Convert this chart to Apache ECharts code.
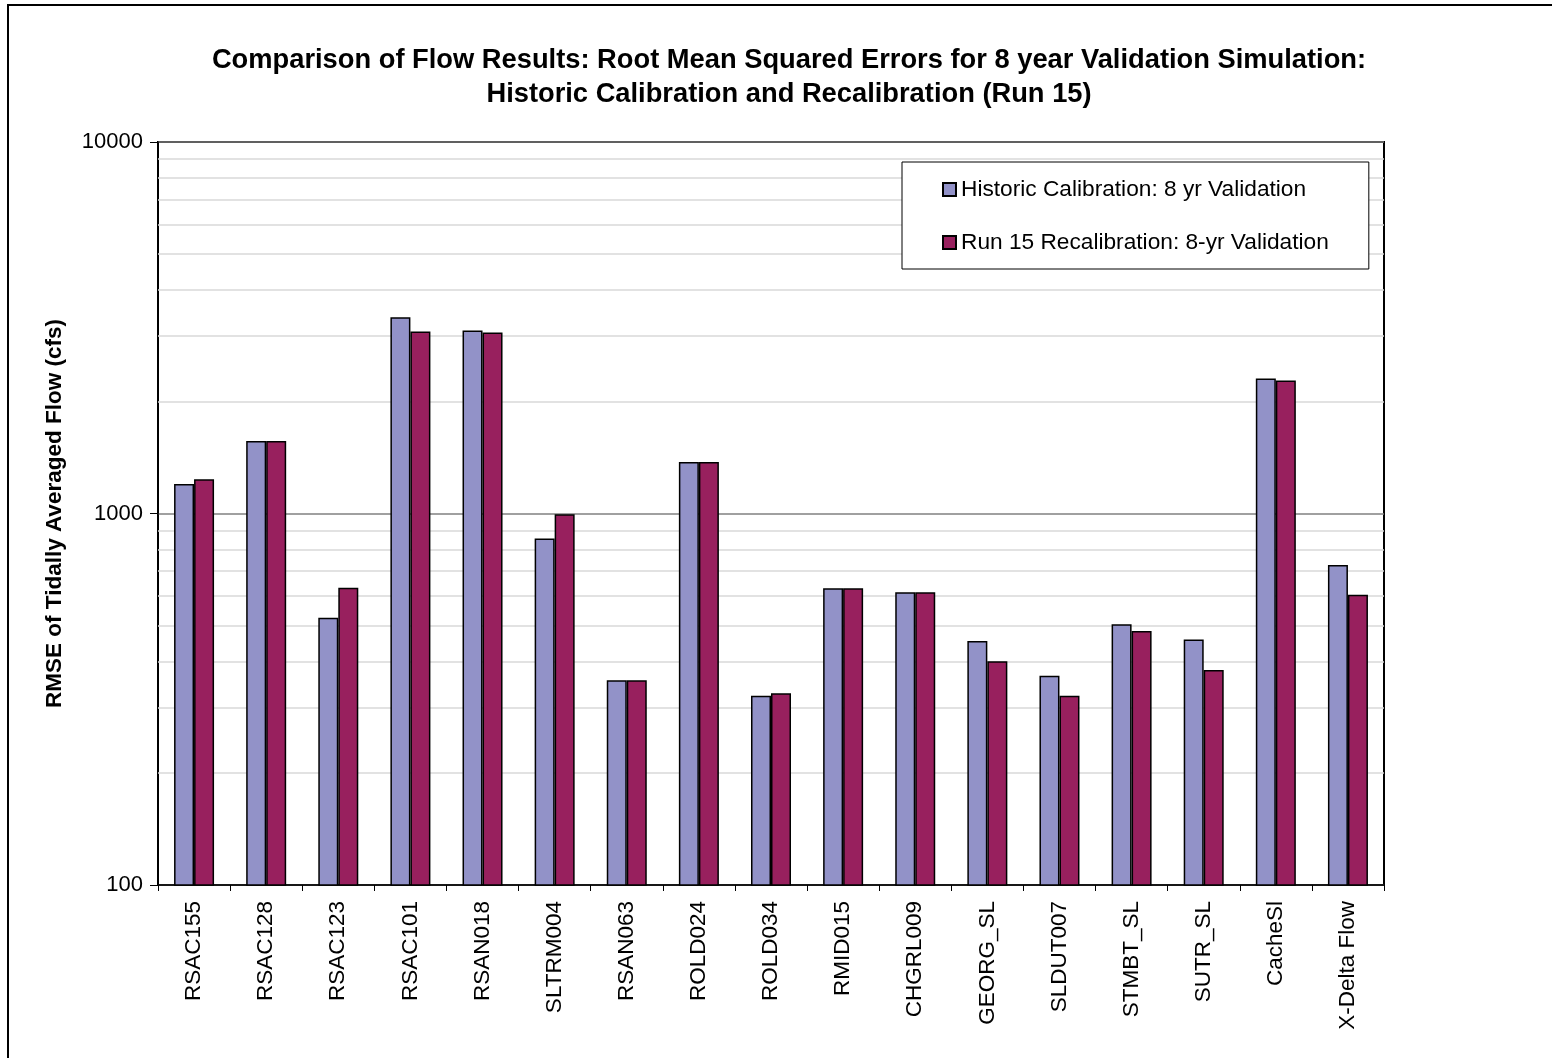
<!DOCTYPE html>
<html>
<head>
<meta charset="utf-8">
<script src="https://cdn.jsdelivr.net/npm/echarts@6/dist/echarts.min.js"></script>
<style>
html,body{margin:0;padding:0;background:#fff;}
#chart{width:1552px;height:1058px;}
</style>
</head>
<body>
<div id="chart"></div>
<script>
const categories = ['RSAC155','RSAC128','RSAC123','RSAC101','RSAN018','SLTRM004','RSAN063','ROLD024','ROLD034','RMID015','CHGRL009','GEORG_SL','SLDUT007','STMBT_SL','SUTR_SL','CacheSl','X-Delta Flow'];
const historicValues = [1201,1568,524,3377,3108,856,356,1377,323,629,614,454,366,503,458,2308,727];
const run15Values    = [1237,1568,631,3089,3070,996,356,1377,328,629,614,400,323,483,379,2280,604];
const seriesNames = ['Historic Calibration: 8 yr Validation','Run 15 Recalibration: 8-yr Validation'];
const yTickLabels = [100,1000,10000];
const minorGridValues = [200,300,400,500,600,700,800,900,2000,3000,4000,5000,6000,7000,8000,9000];
const titleText = 'Comparison of Flow Results: Root Mean Squared Errors for 8 year Validation Simulation:\nHistoric Calibration and Recalibration (Run 15)';
const yAxisName = 'RMSE of Tidally Averaged Flow (cfs)';

const FONT = '"Liberation Sans", Arial, sans-serif';
const chart = echarts.init(document.getElementById('chart'));
chart.setOption({
  backgroundColor: '#fff',
  animation: false,
  textStyle: {fontFamily: FONT, color: '#000'},
  title: {
    text: titleText,
    left: 784, top: 38, textAlign: 'center',
    textStyle: {fontFamily: FONT, fontSize: 27.3, fontWeight: 'bold', color: '#000', lineHeight: 34}
  },
  graphic: [{
    type: 'rect', silent: true, z: 100,
    shape: {x: 8, y: 5, width: 2000, height: 2000},
    style: {fill: 'none', stroke: '#000', lineWidth: 2}
  }],
  legend: {
    orient: 'vertical', left: 902, top: 162,
    padding: [16, 40, 15, 40], itemGap: 30,
    itemWidth: 13, itemHeight: 13, icon: 'rect',
    borderColor: '#000', borderWidth: 1, backgroundColor: '#fff',
    data: seriesNames,
    textStyle: {fontFamily: FONT, fontSize: 22.7, color: '#000'}
  },
  grid: {left: 158, right: 168, top: 142, bottom: 173, show: true, borderColor: '#000', borderWidth: 2, backgroundColor: 'transparent'},
  xAxis: {
    type: 'category', data: categories,
    axisLine: {lineStyle: {color: '#000', width: 1.5}},
    axisTick: {show: true, length: 6, lineStyle: {color: '#000'}},
    axisLabel: {rotate: 90, fontSize: 22.5, margin: 16, color: '#000', fontFamily: FONT, interval: 0}
  },
  yAxis: {
    type: 'log', logBase: 10, min: yTickLabels[0], max: yTickLabels[yTickLabels.length-1],
    name: yAxisName, nameLocation: 'middle', nameGap: 92,
    nameTextStyle: {fontFamily: FONT, fontSize: 22.5, fontWeight: 'bold', color: '#000'},
    axisLine: {show: true, lineStyle: {color: '#000', width: 1.5}},
    axisTick: {show: true, length: 8, lineStyle: {color: '#000'}},
    axisLabel: {fontSize: 22, margin: 15, color: '#000', fontFamily: FONT, formatter: v => String(Math.round(v))},
    splitLine: {show: true, lineStyle: {color: '#808080', width: 1.5}}
  },
  series: [
    {
      name: seriesNames[0], type: 'bar', data: historicValues, z: 2,
      barWidth: 20, barGap: '0%',
      itemStyle: {color: '#9292C8', borderColor: '#000', borderWidth: 1.5},
      markLine: {
        silent: true, symbol: 'none', z: 1, animation: false,
        label: {show: false},
        lineStyle: {color: '#d9d9d9', width: 1.5, type: 'solid'},
        data: minorGridValues.map(v => ({yAxis: v}))
      }
    },
    {
      name: seriesNames[1], type: 'bar', data: run15Values, z: 2,
      barWidth: 20, barGap: '0%',
      itemStyle: {color: '#98205E', borderColor: '#000', borderWidth: 1.5}
    }
  ]
});
</script>
</body>
</html>
